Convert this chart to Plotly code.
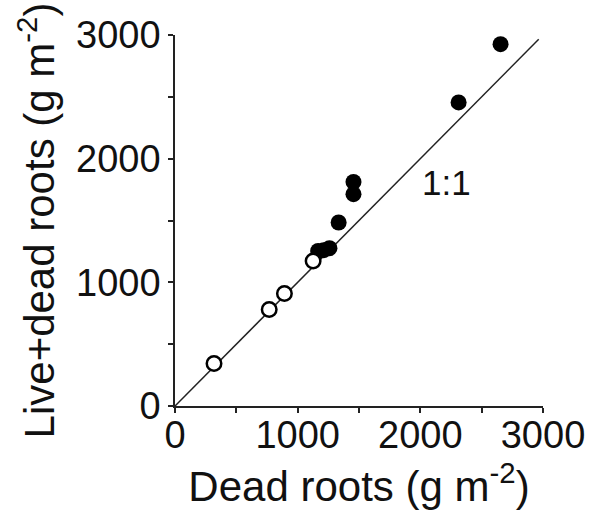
import plotly.graph_objects as go

# Open circles
open_x = [318, 768, 892, 1126]
open_y = [343, 780, 909, 1173]
# Filled circles
fill_x = [1167, 1213, 1259, 1334, 1455, 1455, 2312, 2654]
fill_y = [1254, 1260, 1276, 1484, 1812, 1713, 2455, 2926]
# 1:1 line
line_x = [0, 2965]
line_y = [0, 2965]

tick_vals = [0, 500, 1000, 1500, 2000, 2500, 3000]
tick_text = ["0", "", "1000", "", "2000", "", "3000"]

FONT = "Arial, Liberation Sans, sans-serif"

fig = go.Figure()
fig.add_trace(go.Scatter(x=line_x, y=line_y, mode="lines",
                         line=dict(color="#222", width=1.5), showlegend=False))
fig.add_trace(go.Scatter(x=fill_x, y=fill_y, mode="markers",
                         marker=dict(size=16, color="black", line=dict(width=0)),
                         showlegend=False, cliponaxis=False))
fig.add_trace(go.Scatter(x=open_x, y=open_y, mode="markers",
                         marker=dict(size=14.5, color="white", line=dict(color="black", width=2.5)),
                         showlegend=False, cliponaxis=False))

fig.add_annotation(x=2215, y=1805, text="1:1", showarrow=False,
                   font=dict(size=35, color="#111", family=FONT))

axis_common = dict(
    range=[0, 3000], tickvals=tick_vals, ticktext=tick_text,
    showgrid=False, zeroline=False, showline=True, linecolor="#222", linewidth=1.5,
    ticks="outside", ticklen=5, tickwidth=1.5, tickcolor="#222",
    tickfont=dict(size=38, color="#111", family=FONT),
)

fig.update_layout(
    width=597, height=513,
    margin=dict(l=175, r=51, t=35, b=107),
    paper_bgcolor="white", plot_bgcolor="white",
    xaxis=dict(**axis_common, ticklabelstandoff=-10,
               title=dict(text="Dead roots (g m<sup>-2</sup>)",
                          font=dict(size=42, color="#111", family=FONT), standoff=5)),
    yaxis=dict(**axis_common,
               title=dict(text="Live+dead roots (g m<sup>-2</sup>)",
                          font=dict(size=42, color="#111", family=FONT), standoff=8)),
)

fig.write_html("out.html")
